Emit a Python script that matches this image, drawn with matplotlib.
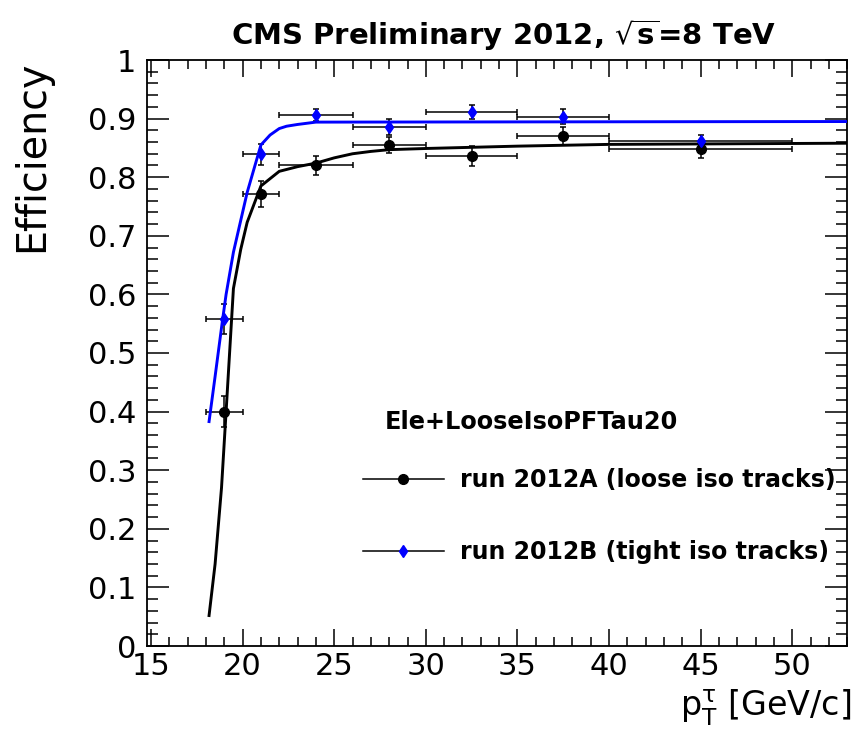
import matplotlib
matplotlib.use("Agg")
import matplotlib.pyplot as plt
from matplotlib.lines import Line2D
from matplotlib.ticker import MultipleLocator

plt.rcParams['font.family'] = ['DejaVu Sans']
plt.rcParams['mathtext.fontset'] = 'dejavusans'

# ---- data ----
pt_centers = [19, 21, 24, 28, 32.5, 37.5, 45]
pt_halfwidth = [1, 1, 2, 2, 2.5, 2.5, 5]

eff_A = [0.40, 0.772, 0.82, 0.855, 0.836, 0.87, 0.848]
err_A = [0.027, 0.022, 0.017, 0.014, 0.017, 0.015, 0.016]

eff_B = [0.558, 0.839, 0.906, 0.886, 0.911, 0.903, 0.862]
err_B = [0.025, 0.018, 0.010, 0.014, 0.012, 0.013, 0.010]

fit_A_x = [18.17, 18.5, 18.85, 19.1, 19.5, 19.9, 20.25, 21.0, 22.0, 23.0, 24.0,
           25.0, 26.0, 27.0, 28.0, 30.0, 35.0, 40.0, 53.0]
fit_A_y = [0.052, 0.14, 0.27, 0.40, 0.61, 0.677, 0.723, 0.785, 0.81, 0.818, 0.824,
           0.833, 0.84, 0.844, 0.847, 0.849, 0.853, 0.856, 0.858]

fit_B_x = [18.17, 18.5, 18.9, 19.1, 19.5, 20.25, 21.0, 21.5, 22.0, 22.4, 23.0, 24.0, 53.0]
fit_B_y = [0.383, 0.46, 0.555, 0.6, 0.672, 0.774, 0.855, 0.872, 0.883, 0.887, 0.890, 0.894, 0.895]

label_A = "run 2012A (loose iso tracks)"
label_B = "run 2012B (tight iso tracks)"
legend_header = "Ele+LooseIsoPFTau20"
title = r"CMS Preliminary 2012, $\sqrt{\mathbf{s}}$=8 TeV"
xlabel = r"$\mathregular{p_{T}^{\tau}}$ [GeV/c]"
ylabel = "Efficiency"

# ---- figure ----
W, H = 856, 737
fig = plt.figure(figsize=(W / 100, H / 100), dpi=100, facecolor='white')
left, right, top, bottom = 147.3, 847.3, 60, 646
ax = fig.add_axes([left / W, (H - bottom) / H, (right - left) / W, (bottom - top) / H])

ax.errorbar(pt_centers, eff_A, xerr=pt_halfwidth, yerr=err_A, fmt='o', color='black',
            markersize=7, ecolor='black', elinewidth=1.1, capsize=2.5, capthick=1.1, zorder=3)
ax.plot(fit_A_x, fit_A_y, color='black', lw=2.1, zorder=4)

ax.errorbar(pt_centers, eff_B, xerr=pt_halfwidth, yerr=err_B, fmt='d', color='blue',
            markersize=6, ecolor='black', elinewidth=1.1, capsize=2.5, capthick=1.1, zorder=5)
ax.plot(fit_B_x, fit_B_y, color='blue', lw=2.1, zorder=6)

ax.set_xlim(14.8, 53.0)
ax.set_ylim(0, 1)
ax.xaxis.set_major_locator(MultipleLocator(5))
ax.xaxis.set_minor_locator(MultipleLocator(1))
ax.yaxis.set_major_locator(MultipleLocator(0.1))
ax.yaxis.set_minor_locator(MultipleLocator(0.02))
ax.xaxis.set_major_formatter(matplotlib.ticker.FuncFormatter(lambda v, p: f"{v:g}"))
ax.yaxis.set_major_formatter(matplotlib.ticker.FuncFormatter(lambda v, p: f"{v:g}"))

ax.tick_params(axis='both', which='both', direction='in', top=True, right=True,
               width=1.1, color='black', labelsize=22)
ax.tick_params(axis='x', which='major', length=12, pad=4)
ax.tick_params(axis='x', which='minor', length=6.5)
ax.tick_params(axis='y', which='major', length=16, pad=8)
ax.tick_params(axis='y', which='minor', length=8)
for s in ax.spines.values():
    s.set_linewidth(1.3)

# axis titles (ROOT style, aligned to the axis ends)
fig.text(851 / W, (H - 717) / H, xlabel, fontsize=24, ha='right', va='baseline')
fig.text(43 / W, (H - 60) / H, ylabel, fontsize=28.5, rotation=90,
         rotation_mode='anchor', ha='right', va='baseline')

# title
fig.text(504 / W, (H - 45) / H, title, fontsize=21, fontweight='bold',
         ha='center', va='baseline')

# legend
ax.text((385 - left) / (right - left), (bottom - 422) / (bottom - top), legend_header,
        transform=ax.transAxes, fontsize=17.3, fontweight='bold', ha='left', va='center')
handles = [
    Line2D([], [], color='black', lw=1.1, marker='o', markersize=7,
           markerfacecolor='black', markeredgecolor='black'),
    Line2D([], [], color='black', lw=1.1, marker='d', markersize=6,
           markerfacecolor='blue', markeredgecolor='blue'),
]
leg = ax.legend(handles, [label_A, label_B], loc='center left',
                bbox_to_anchor=((363 - left) / (right - left), (bottom - 516) / (bottom - top)),
                frameon=False, prop={'size': 17, 'weight': 'bold'},
                handlelength=3.43, handletextpad=0.66, labelspacing=2.05,
                borderpad=0, borderaxespad=0)

fig.savefig("out.png", dpi=100, facecolor='white')
